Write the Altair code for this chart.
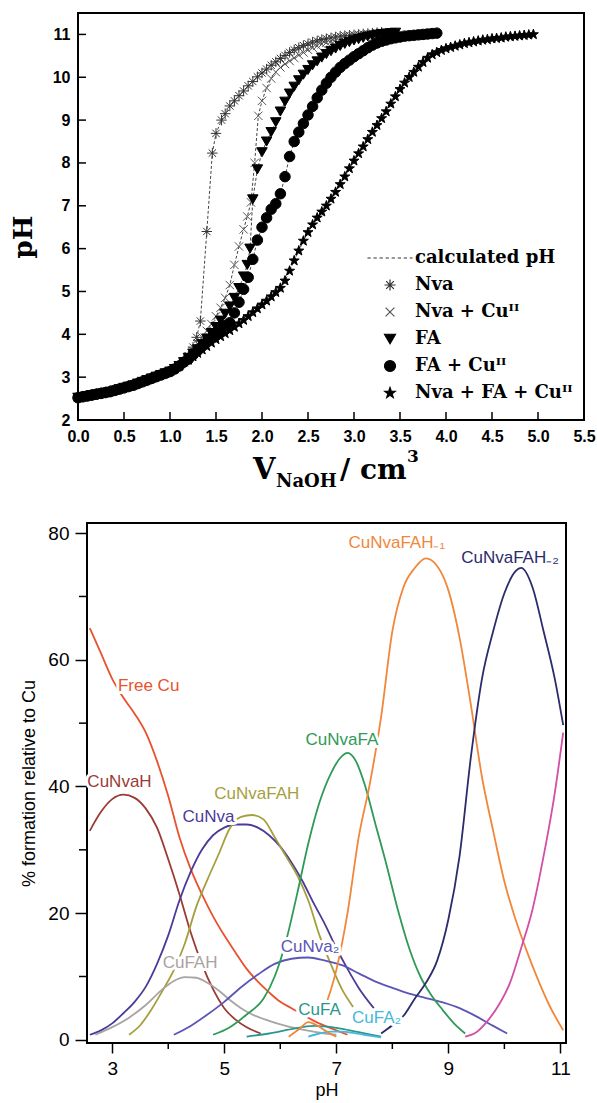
import altair as alt
import pandas as pd

# ================= TOP PANEL: titration curves =================
# common acidic part (all series overlap here)
base_v = [0.00, 0.05, 0.10, 0.15, 0.20, 0.25, 0.30, 0.35, 0.40, 0.45, 0.50, 0.55,
          0.60, 0.65, 0.70, 0.75, 0.80, 0.85, 0.90, 0.95, 1.00, 1.05, 1.10, 1.15]
base_ph = [2.52, 2.54, 2.56, 2.58, 2.60, 2.62, 2.64, 2.66, 2.69, 2.72, 2.75, 2.78,
           2.81, 2.85, 2.89, 2.93, 2.97, 3.01, 3.05, 3.09, 3.13, 3.19, 3.26, 3.35]

nva_v = [1.20, 1.25, 1.29, 1.33, 1.40, 1.46, 1.50, 1.56, 1.60, 1.65,
         1.70, 1.75, 1.80, 1.85, 1.90, 1.95, 2.00, 2.05, 2.10, 2.15,
         2.20, 2.25, 2.30, 2.35, 2.40, 2.45, 2.50, 2.55, 2.60, 2.65,
         2.70, 2.75, 2.80, 2.85, 2.90, 2.95, 3.00, 3.05, 3.10, 3.15,
         3.20, 3.25, 3.30]
nva_ph = [3.50, 3.70, 3.93, 4.31, 6.40, 8.23, 8.69, 9.00, 9.15, 9.33,
          9.45, 9.57, 9.68, 9.80, 9.90, 10.01, 10.10, 10.19, 10.28, 10.36,
          10.44, 10.51, 10.58, 10.64, 10.69, 10.74, 10.78, 10.82, 10.85, 10.88,
          10.90, 10.92, 10.94, 10.96, 10.97, 10.98, 10.99, 11.00, 11.01, 11.02,
          11.03, 11.04, 11.05]

nvacu_v = [1.20, 1.25, 1.30, 1.35, 1.40, 1.45, 1.50, 1.55, 1.60, 1.65,
           1.70, 1.75, 1.80, 1.84, 1.88, 1.92, 1.96, 2.00, 2.05, 2.10,
           2.15, 2.20, 2.25, 2.30, 2.35, 2.40, 2.45, 2.50, 2.55, 2.60,
           2.65, 2.70, 2.75, 2.80, 2.85, 2.90, 2.95, 3.00, 3.05, 3.10,
           3.15, 3.20, 3.25, 3.30, 3.35, 3.40]
nvacu_ph = [3.48, 3.62, 3.78, 3.93, 4.08, 4.24, 4.42, 4.62, 4.85, 5.15,
            5.62, 6.05, 6.45, 6.75, 7.08, 8.00, 9.10, 9.45, 9.75, 9.97,
            10.12, 10.23, 10.31, 10.38, 10.45, 10.52, 10.58, 10.64, 10.69, 10.73,
            10.77, 10.81, 10.84, 10.87, 10.89, 10.91, 10.93, 10.95, 10.96, 10.97,
            10.98, 10.99, 11.00, 11.01, 11.02, 11.03]

fa_v = [1.20, 1.25, 1.30, 1.35, 1.40, 1.45, 1.50, 1.55, 1.60, 1.65,
        1.70, 1.75, 1.80, 1.84, 1.87, 1.90, 1.95, 2.00, 2.05, 2.10,
        2.15, 2.20, 2.25, 2.30, 2.35, 2.40, 2.45, 2.50, 2.55, 2.60,
        2.65, 2.70, 2.75, 2.80, 2.85, 2.90, 2.95, 3.00, 3.05, 3.10,
        3.15, 3.20, 3.25, 3.30, 3.35, 3.40, 3.45]
fa_ph = [3.45, 3.55, 3.65, 3.77, 3.90, 4.03, 4.17, 4.32, 4.48, 4.65,
         4.85, 5.08, 5.35, 5.62, 6.00, 7.15, 7.85, 8.25, 8.50, 8.72,
         8.95, 9.20, 9.43, 9.62, 9.78, 9.93, 10.06, 10.17, 10.28, 10.37,
         10.46, 10.54, 10.61, 10.67, 10.73, 10.78, 10.82, 10.86, 10.89, 10.92,
         10.95, 10.97, 10.99, 11.01, 11.02, 11.03, 11.04]

facu_v = [1.20, 1.25, 1.30, 1.35, 1.40, 1.45, 1.50, 1.55, 1.60, 1.65,
          1.70, 1.75, 1.80, 1.85, 1.90, 1.95, 2.00, 2.05, 2.10, 2.15,
          2.20, 2.25, 2.30, 2.35, 2.40, 2.45, 2.50, 2.55, 2.60, 2.65,
          2.70, 2.75, 2.80, 2.85, 2.90, 2.95, 3.00, 3.05, 3.10, 3.15,
          3.20, 3.25, 3.30, 3.35, 3.40, 3.45, 3.50, 3.55, 3.60, 3.65,
          3.70, 3.75, 3.80, 3.85, 3.90]
facu_ph = [3.42, 3.52, 3.62, 3.72, 3.82, 3.92, 4.02, 4.12, 4.20, 4.27,
           4.50, 4.75, 5.05, 5.33, 5.75, 6.20, 6.50, 6.72, 6.92, 7.05,
           7.28, 7.68, 8.15, 8.50, 8.72, 8.92, 9.12, 9.32, 9.52, 9.70,
           9.86, 10.00, 10.12, 10.23, 10.32, 10.40, 10.48, 10.55, 10.62, 10.69,
           10.75, 10.80, 10.84, 10.87, 10.90, 10.92, 10.94, 10.96, 10.97, 10.98,
           10.99, 11.00, 11.01, 11.02, 11.03]

tern_v = [1.20, 1.25, 1.30, 1.35, 1.40, 1.45, 1.50, 1.55, 1.60, 1.65,
          1.70, 1.75, 1.80, 1.85, 1.90, 1.95, 2.00, 2.05, 2.10, 2.15,
          2.20, 2.25, 2.30, 2.35, 2.40, 2.45, 2.50, 2.55, 2.60, 2.65,
          2.70, 2.75, 2.80, 2.85, 2.90, 2.95, 3.00, 3.05, 3.10, 3.15,
          3.20, 3.25, 3.30, 3.35, 3.40, 3.45, 3.50, 3.55, 3.60, 3.65,
          3.70, 3.75, 3.80, 3.85, 3.90, 3.95, 4.00, 4.05, 4.10, 4.15,
          4.20, 4.25, 4.30, 4.35, 4.40, 4.45, 4.50, 4.55, 4.60, 4.65,
          4.70, 4.75, 4.80, 4.85, 4.90, 4.95]
tern_ph = [3.40, 3.48, 3.56, 3.64, 3.72, 3.80, 3.88, 3.95, 4.02, 4.09,
           4.17, 4.25, 4.33, 4.42, 4.51, 4.60, 4.69, 4.78, 4.88, 4.98,
           5.08, 5.25, 5.48, 5.72, 5.95, 6.18, 6.38, 6.56, 6.72, 6.86,
           7.00, 7.16, 7.32, 7.50, 7.68, 7.87, 8.05, 8.22, 8.38, 8.55,
           8.72, 8.88, 9.04, 9.20, 9.38, 9.55, 9.72, 9.87, 10.00, 10.12,
           10.24, 10.35, 10.45, 10.53, 10.58, 10.63, 10.67, 10.70, 10.73, 10.76,
           10.79, 10.81, 10.83, 10.85, 10.87, 10.88, 10.90, 10.91, 10.92, 10.94,
           10.95, 10.96, 10.97, 10.98, 10.99, 11.00]

top_names = ["calculated pH", "Nva", "Nva + Cuᴵᴵ", "FA", "FA + Cuᴵᴵ", "Nva + FA + Cuᴵᴵ"]
top_x_ticks = [0.0, 0.5, 1.0, 1.5, 2.0, 2.5, 3.0, 3.5, 4.0, 4.5, 5.0, 5.5]
top_y_ticks = [2, 3, 4, 5, 6, 7, 8, 9, 10, 11]

rows = []
for name, vv, pp in [(top_names[1], nva_v, nva_ph), (top_names[2], nvacu_v, nvacu_ph),
                     (top_names[3], fa_v, fa_ph), (top_names[4], facu_v, facu_ph),
                     (top_names[5], tern_v, tern_ph)]:
    for v, p in zip(base_v + vv, base_ph + pp):
        rows.append({"series": name, "V": v, "pH": p})
top_df = pd.DataFrame(rows)

ASTER = "M-1,0L1,0M0,-1L0,1M-0.7,-0.7L0.7,0.7M-0.7,0.7L0.7,-0.7"
XMARK = "M-0.8,-0.8L0.8,0.8M-0.8,0.8L0.8,-0.8"
STAR = ("M0,-1L0.235,-0.324L0.951,-0.309L0.38,0.124L0.588,0.809L0,0.4"
        "L-0.588,0.809L-0.38,0.124L-0.951,-0.309L-0.235,-0.324Z")
DASH = ("M-4.1,0L-3.5,0M-3.0,0L-2.4,0M-1.9,0L-1.3,0M-0.8,0L-0.2,0"
        "M0.3,0L0.9,0M1.4,0L2.0,0M2.5,0L3.1,0M3.6,0L4.1,0")
top_shapes = [DASH, ASTER, XMARK, "triangle-down", "circle", STAR]
top_fills = ["transparent", "transparent", "transparent", "black", "black", "black"]
top_strokes = ["#333333", "#333333", "#555555", "black", "black", "black"]

W1, H1 = 506, 407
xs1 = alt.Scale(domain=[0, 5.5], nice=False, zero=False)
ys1 = alt.Scale(domain=[2, 11.5], nice=False, zero=False)

ax1x = alt.Axis(values=top_x_ticks, format=".1f", title=None, tickSize=0, domain=False,
                grid=False, labelFont="Liberation Sans", labelFontWeight="bold",
                labelFontSize=16, labelColor="black", labelPadding=8,
                labelFlush=False, labelOverlap=False)
ax1y = alt.Axis(values=top_y_ticks, title=None, tickSize=0, domain=False, grid=False,
                labelFont="Liberation Sans", labelFontWeight="bold", labelFontSize=16,
                labelColor="black", labelPadding=8)

leg = alt.Legend(title=None, orient="none", legendX=379, legendY=236,
                 labelFont="DejaVu Serif", labelFontWeight="bold", labelFontSize=18,
                 labelColor="black", labelOffset=16, rowPadding=9, padding=0,
                 symbolSize=121, symbolStrokeWidth=1.2, labelLimit=0)

calc = alt.Chart(top_df).mark_line(strokeDash=[3, 2], strokeWidth=1, color="#444444").encode(
    x=alt.X("V:Q", scale=xs1, axis=ax1x),
    y=alt.Y("pH:Q", scale=ys1, axis=ax1y),
    detail="series:N",
)

pts = alt.Chart(top_df).mark_point(size=110, opacity=1, strokeWidth=1).encode(
    x=alt.X("V:Q", scale=xs1, axis=ax1x),
    y=alt.Y("pH:Q", scale=ys1, axis=ax1y),
    shape=alt.Shape("series:N", scale=alt.Scale(domain=top_names, range=top_shapes), legend=leg),
    fill=alt.Fill("series:N", scale=alt.Scale(domain=top_names, range=top_fills), legend=leg),
    stroke=alt.Stroke("series:N", scale=alt.Scale(domain=top_names, range=top_strokes), legend=leg),
)

xt1 = alt.Chart(pd.DataFrame({"V": top_x_ticks})).mark_rule(color="black", strokeWidth=1.5).encode(
    x=alt.X("V:Q", scale=xs1, axis=ax1x), y=alt.value(H1 - 8), y2=alt.value(H1))
yt1 = alt.Chart(pd.DataFrame({"pH": top_y_ticks})).mark_rule(color="black", strokeWidth=1.5).encode(
    y=alt.Y("pH:Q", scale=ys1, axis=ax1y), x=alt.value(0), x2=alt.value(8))


def title_piece(txt, size, px, py, angle=0, align="left", baseline="alphabetic"):
    return alt.Chart(pd.DataFrame({"t": [txt]})).mark_text(
        font="DejaVu Serif", fontWeight="bold", fontSize=size, align=align,
        baseline=baseline, angle=angle, color="black").encode(
        text="t:N", x=alt.value(px), y=alt.value(py))


top = alt.layer(
    calc, pts, xt1, yt1,
    title_piece("V", 29, 175, 466),
    title_piece("NaOH", 18, 198, 474),
    title_piece("/ cm", 28, 262, 466),
    title_piece("3", 17, 329, 449),
    title_piece("pH", 26, -54, 224, angle=270, align="center", baseline="middle"),
).properties(width=W1, height=H1, view=alt.ViewBackground(stroke="black", strokeWidth=2))

# ================= BOTTOM PANEL: species distribution =================
free_cu_x = [2.6, 2.8, 3.0, 3.2, 3.4, 3.6, 3.8, 4.0, 4.2, 4.4, 4.6, 4.8, 5.0, 5.2, 5.4, 5.6, 5.8,
             6.0, 6.2, 6.4, 6.6, 6.8, 7.0, 7.2]
free_cu_y = [65, 61, 57, 54, 51.5, 48.5, 44, 38.5, 32, 27, 23, 19.5, 16.5, 13.8, 11.2, 9.2, 7.5,
             6, 5, 4, 3, 2.2, 1.5, 0.8]
cunvah_x = [2.6, 2.8, 3.0, 3.2, 3.4, 3.6, 3.8, 4.0, 4.2, 4.4, 4.6, 4.8, 5.0, 5.2, 5.4, 5.65]
cunvah_y = [33, 36, 38, 38.7, 38.2, 36.5, 33.5, 28.5, 23, 17, 12, 8, 5, 3.2, 2, 1]
cunva_x = [2.6, 2.8, 3.0, 3.2, 3.4, 3.6, 3.8, 4.0, 4.2, 4.4, 4.6, 4.8, 5.0, 5.2, 5.4, 5.6, 5.8,
           6.0, 6.2, 6.4, 6.6, 6.8, 7.0, 7.2, 7.4, 7.67]
cunva_y = [0.8, 1.5, 2.6, 4.2, 6, 8.4, 12, 16.5, 22, 26.5, 30, 32.3, 33.5, 34, 34, 33.5, 32.3,
           30.5, 28, 25, 21.5, 18.2, 14.5, 11.2, 8.2, 5]
cunvafah_x = [3.3, 3.5, 3.7, 3.9, 4.1, 4.3, 4.5, 4.7, 4.9, 5.1, 5.3, 5.5, 5.7, 5.9, 6.1, 6.3,
              6.5, 6.7, 6.9, 7.1, 7.3]
cunvafah_y = [0.8, 2.3, 4.8, 7.8, 11, 15.3, 21, 25.3, 29.3, 33.4, 35.2, 35.5, 34.8, 32, 29, 26,
              22, 16.5, 12, 8, 5.2]
cufah_x = [2.7, 3.0, 3.3, 3.6, 3.9, 4.1, 4.3, 4.5, 4.7, 4.9, 5.1, 5.3, 5.5, 5.8, 6.1, 6.4, 6.8, 7.0]
cufah_y = [0.8, 2, 3.5, 5.5, 8, 9.3, 9.9, 9.8, 9, 7.8, 6.3, 5, 4, 3, 2.2, 1.6, 1.0, 0.8]
cunva2_x = [4.1, 4.4, 4.7, 5.0, 5.3, 5.6, 5.9, 6.2, 6.5, 6.8, 7.1, 7.4, 7.7, 8.0, 8.3, 8.6, 8.9,
            9.2, 9.5, 9.8, 10.05]
cunva2_y = [0.8, 2.2, 4, 6, 8.3, 10.3, 12, 12.8, 13, 12.5, 11.8, 10.5, 9.2, 8.2, 7.3, 6.6, 5.9,
            5.0, 3.7, 2.2, 1.0]
cunvafa_x = [4.8, 5.1, 5.4, 5.7, 5.9, 6.1, 6.3, 6.5, 6.7, 6.9, 7.1, 7.2, 7.35, 7.5, 7.7, 7.9, 8.1,
             8.3, 8.5, 8.7, 8.9, 9.1, 9.3]
cunvafa_y = [0.8, 2, 4, 6.5, 10, 15.5, 23, 31, 37.5, 42, 44.8, 45.3, 44, 40.5, 34, 27.5, 20.5,
             14.5, 10, 7, 4.7, 2.6, 1.0]
cufa_x = [5.4, 5.8, 6.2, 6.6, 7.0, 7.4, 7.8]
cufa_y = [0.5, 1.0, 1.7, 2.2, 1.9, 1.2, 0.5]
cufa2_x = [6.5, 6.7, 6.9, 7.1, 7.3, 7.5, 7.8]
cufa2_y = [0.5, 1.0, 1.3, 1.3, 1.1, 0.8, 0.4]
minor_or_x = [6.15, 6.35, 6.5, 6.65, 6.85, 7.0]
minor_or_y = [0.5, 1.8, 2.8, 2.3, 1.2, 0.5]
fah1_x = [6.75, 7.0, 7.2, 7.4, 7.6, 7.8, 8.0, 8.2, 8.4, 8.6, 8.8, 9.0, 9.2, 9.4, 9.6, 9.8, 10.0,
          10.2, 10.4, 10.6, 10.8, 11.05]
fah1_y = [4, 11, 20, 32, 40.5, 51, 64.5, 71.5, 74.5, 76, 74.8, 71, 63.5, 53, 41.5, 33, 25,
          19, 14, 9.5, 5.5, 1.5]
fah2_x = [7.8, 8.0, 8.2, 8.4, 8.6, 8.8, 9.0, 9.2, 9.4, 9.6, 9.8, 10.0, 10.2, 10.3, 10.5, 10.7,
          10.9, 11.05]
fah2_y = [1, 2.3, 3.8, 6.5, 9, 12.5, 19, 29, 44.5, 57, 64.5, 70.5, 74, 74.5, 71.5, 64.5, 57, 49.7]
pink_x = [9.3, 9.5, 9.7, 9.9, 10.1, 10.3, 10.5, 10.7, 10.9, 11.05]
pink_y = [0.5, 1.2, 3, 5.5, 9, 14.5, 20.5, 29, 39, 48.5]

spec_names = ["Free Cu", "CuNvaH", "CuNva", "CuNvaFAH", "CuFAH", "CuNva₂", "CuNvaFA", "CuFA",
              "CuFA₂", "CuNvaFAH₋₁", "CuNvaFAH₋₂", "pink species", "minor orange species"]
spec_colors = ["#E8522E", "#9C3A36", "#4B3B98", "#A59F3E", "#A9A3A3", "#5B55B5", "#2F9A57",
               "#2B968F", "#45B9DA", "#F0873A", "#2C2B6B", "#D34EA6", "#F0873A"]
spec_data = [(free_cu_x, free_cu_y), (cunvah_x, cunvah_y), (cunva_x, cunva_y),
             (cunvafah_x, cunvafah_y), (cufah_x, cufah_y), (cunva2_x, cunva2_y),
             (cunvafa_x, cunvafa_y), (cufa_x, cufa_y), (cufa2_x, cufa2_y), (fah1_x, fah1_y),
             (fah2_x, fah2_y), (pink_x, pink_y), (minor_or_x, minor_or_y)]

brows = []
for name, (xx, yy) in zip(spec_names, spec_data):
    for a, b in zip(xx, yy):
        brows.append({"species": name, "pH": a, "pct": b})
bot_df = pd.DataFrame(brows)

label_species = ["Free Cu", "CuNvaH", "CuNva", "CuNvaFAH", "CuFAH", "CuNvaFA", "CuNva₂", "CuFA",
                 "CuFA₂", "CuNvaFAH₋₁", "CuNvaFAH₋₂"]
label_x = [3.65, 3.13, 4.72, 5.58, 4.39, 7.10, 6.53, 6.70, 7.72, 8.08, 10.10]
label_y = [55.8, 40.7, 35.2, 38.8, 12.1, 47.3, 14.7, 4.7, 3.4, 78.5, 76.0]
lab_df = pd.DataFrame({"species": label_species, "pH": label_x, "pct": label_y})

bot_x_major = [3, 5, 7, 9, 11]
bot_x_minor = [4, 6, 8, 10]
bot_y_major = [0, 20, 40, 60, 80]
bot_y_minor = [10, 30, 50, 70]

W2, H2 = 479, 520
xs2 = alt.Scale(domain=[2.55, 11.1], nice=False, zero=False)
ys2 = alt.Scale(domain=[-0.5, 81.6], nice=False, zero=False)
cscale = alt.Scale(domain=spec_names, range=spec_colors)

ax2x = alt.Axis(values=bot_x_major, title="pH", grid=False, domain=False,
                tickSize=10, tickColor="black", tickWidth=1.5,
                labelFont="Liberation Sans", labelFontSize=19, labelColor="black",
                labelPadding=6, labelFlush=False, titleFont="Liberation Sans",
                titleFontSize=18, titleFontWeight="normal", titleColor="black",
                titlePadding=3)
ax2y = alt.Axis(values=bot_y_major, title="% formation relative to Cu", grid=False,
                domain=False, tickSize=12, tickColor="black", tickWidth=1.5,
                labelFont="Liberation Sans", labelFontSize=19, labelColor="black",
                labelPadding=6, titleFont="Liberation Sans", titleFontSize=18,
                titleFontWeight="normal", titleColor="black", titlePadding=9)

lines = alt.Chart(bot_df).mark_line(strokeWidth=1.8, interpolate="monotone").encode(
    x=alt.X("pH:Q", scale=xs2, axis=ax2x),
    y=alt.Y("pct:Q", scale=ys2, axis=ax2y),
    color=alt.Color("species:N", scale=cscale, legend=None),
    detail="species:N",
)

halo = alt.Chart(lab_df).mark_text(font="Liberation Sans", fontSize=17, align="center",
                                   baseline="middle", color="white", stroke="white",
                                   strokeWidth=6, strokeJoin="round").encode(
    x=alt.X("pH:Q", scale=xs2, axis=ax2x),
    y=alt.Y("pct:Q", scale=ys2, axis=ax2y),
    text="species:N",
)

labels = alt.Chart(lab_df).mark_text(font="Liberation Sans", fontSize=17, align="center",
                                     baseline="middle").encode(
    x=alt.X("pH:Q", scale=xs2, axis=ax2x),
    y=alt.Y("pct:Q", scale=ys2, axis=ax2y),
    text="species:N",
    color=alt.Color("species:N", scale=cscale, legend=None),
)

mx = alt.Chart(pd.DataFrame({"pH": bot_x_minor})).mark_rule(color="black", strokeWidth=1.5).encode(
    x=alt.X("pH:Q", scale=xs2, axis=ax2x), y=alt.value(H2), y2=alt.value(H2 + 6))
my = alt.Chart(pd.DataFrame({"pct": bot_y_minor})).mark_rule(color="black", strokeWidth=1.5).encode(
    y=alt.Y("pct:Q", scale=ys2, axis=ax2y), x=alt.value(-8), x2=alt.value(0))

bottom = alt.layer(lines, halo, labels, mx, my).properties(
    width=W2, height=H2, view=alt.ViewBackground(stroke="black", strokeWidth=2))


def spacer(w):
    return alt.Chart(pd.DataFrame({"a": [0]})).mark_text(text=" ", fontSize=4).encode(
        x=alt.value(w / 2), y=alt.value(5)).properties(
        width=w, height=10, view=alt.ViewBackground(stroke="transparent"))


row1 = alt.hconcat(spacer(7), top, spacing=0)
row2 = alt.hconcat(spacer(16), bottom, spacing=0)

chart = alt.vconcat(row1, row2, spacing=30).properties(
    padding={"left": 1, "top": 12, "right": 0, "bottom": 0}
).configure_view(stroke="black", strokeWidth=2).configure(background="white")

chart.save("out.html", embed_options={"renderer": "svg", "actions": False})
